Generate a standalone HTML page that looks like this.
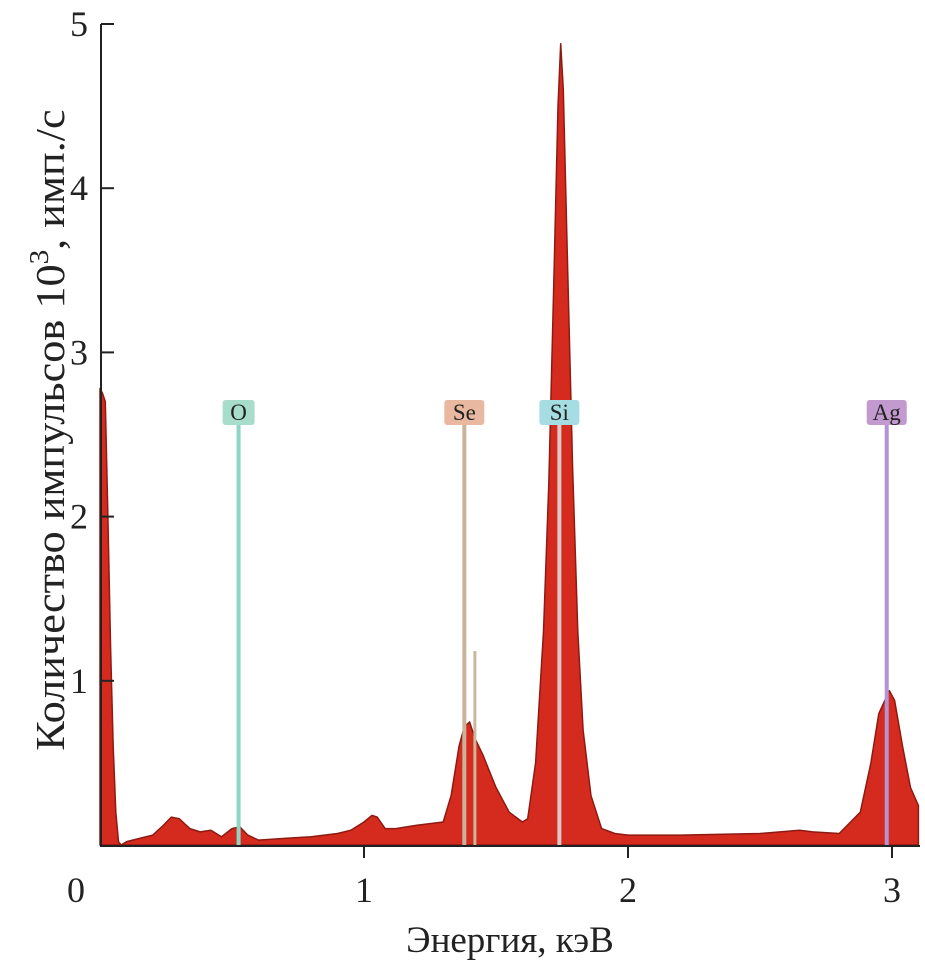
<!DOCTYPE html>
<html><head><meta charset="utf-8"><style>
html,body{margin:0;padding:0;background:#fff;}
svg{display:block;font-family:"Liberation Serif",serif;}
</style></head><body>
<svg id="chart" width="925" height="970" viewBox="0 0 925 970">
<g id="plot"></g>
<g id="axes"></g>
</svg>
<script>
const energies=[0,0.01,0.02,0.03,0.04,0.05,0.06,0.07,0.08,0.1,0.15,0.2,0.24,0.27,0.3,0.34,0.38,0.42,0.46,0.5,0.53,0.56,0.6,0.7,0.8,0.9,0.95,1.0,1.03,1.05,1.08,1.12,1.2,1.3,1.33,1.36,1.38,1.40,1.42,1.45,1.5,1.55,1.6,1.62,1.65,1.68,1.70,1.72,1.735,1.745,1.755,1.77,1.79,1.81,1.83,1.86,1.9,1.95,2.0,2.2,2.5,2.65,2.7,2.8,2.88,2.92,2.95,2.99,3.01,3.04,3.07,3.1];
const counts=[2.78,2.75,2.7,2.0,1.2,0.6,0.2,0.02,0.0,0.02,0.04,0.06,0.12,0.17,0.16,0.1,0.08,0.09,0.05,0.1,0.11,0.06,0.03,0.04,0.05,0.07,0.09,0.14,0.18,0.17,0.1,0.1,0.12,0.14,0.3,0.6,0.72,0.75,0.65,0.55,0.35,0.2,0.14,0.16,0.5,1.3,2.2,3.5,4.5,4.88,4.6,3.6,2.3,1.3,0.7,0.3,0.1,0.07,0.06,0.06,0.07,0.09,0.08,0.07,0.2,0.5,0.8,0.94,0.88,0.6,0.35,0.24];
const elements=["O","Se","Si","Ag"];
const elementEnergies=[0.525,1.38,1.74,2.98];
const elementColors=["#a8dccb","#e9b8a0","#a6dde3","#c39ad0"];
const lineColors=["#8fd5c4","#c9b39a","#d9c9c9","#b492d3"];
const xTicks=[0,1,2,3];
const yTicks=[0,1,2,3,4,5];

const NS="http://www.w3.org/2000/svg";
const X0=100,XS=264,Y0=845,YS=164.2;
function xs(e){return X0+e*XS;}
function ys(v){return Y0-v*YS;}
function mk(tag,attrs,parent){const el=document.createElementNS(NS,tag);for(const k in attrs)el.setAttribute(k,attrs[k]);parent.appendChild(el);return el;}
const plot=document.getElementById('plot');
const axes=document.getElementById('axes');

let d="M"+xs(energies[0])+","+Y0;
for(let i=0;i<energies.length;i++){d+=" L"+xs(energies[i]).toFixed(1)+","+ys(counts[i]).toFixed(1);}
d+=" L"+xs(energies[energies.length-1])+","+Y0+" Z";
const spec=mk('path',{d:d,fill:"#d52b1f",stroke:"#8e1a12","stroke-width":"1.5","stroke-linejoin":"round"},plot);



const se2=mk('line',{x1:xs(1.42),x2:xs(1.42),y1:651,y2:Y0,stroke:"#cbb79c","stroke-width":"3"},plot);



for(let i=0;i<elements.length;i++){
  const x=xs(elementEnergies[i]);
  const ln=mk('line',{x1:x,x2:x,y1:424,y2:Y0,stroke:lineColors[i],"stroke-width":"4"},plot);
  
  
  const w=elements[i].length>1?40:32;
  const r=mk('rect',{x:x-w/2,y:400,width:w,height:25,rx:3,fill:elementColors[i]},plot);
  
  
  const t=mk('text',{x:x,y:420,"text-anchor":"middle","font-size":"23",fill:"#222"},plot);
  t.textContent=elements[i];
  
  
}

const ya=mk('line',{x1:101,x2:101,y1:24,y2:Y0+1,stroke:"#222","stroke-width":"2"},axes);


const xa=mk('line',{x1:100,x2:920,y1:Y0+1,y2:Y0+1,stroke:"#222","stroke-width":"2"},axes);



for(const v of yTicks){
  const y=ys(v);
  if(v>0){
    const tk=mk('line',{x1:101,x2:114,y1:y,y2:y,stroke:"#222","stroke-width":"2"},axes);
    
    
    const tl=mk('text',{x:88,y:y+12,"text-anchor":"end","font-size":"36",fill:"#222"},axes);
    tl.textContent=v;
    
    
  }
}
for(const v of xTicks){
  const x=xs(v);
  if(v>0){
    const tk=mk('line',{x1:x,x2:x,y1:Y0,y2:Y0+13,stroke:"#222","stroke-width":"2"},axes);
    
    
  }
  const tl=mk('text',{x:v===0?76:x,y:902,"text-anchor":"middle","font-size":"36",fill:"#222"},axes);
  tl.textContent=v;
  
  
}
const xt=mk('text',{x:510,y:952,"text-anchor":"middle","font-size":"37",fill:"#222"},axes);
xt.textContent="Энергия, кэВ";


const yt=mk('text',{x:0,y:0,"text-anchor":"middle","font-size":"41",fill:"#222",transform:"translate(64,430) rotate(-90) scale(1.08,1)"},axes);
yt.innerHTML='Количество импульсов 10<tspan dy="-16" font-size="27">3</tspan><tspan dy="16">, имп./с</tspan>';


</script>
</body></html>
